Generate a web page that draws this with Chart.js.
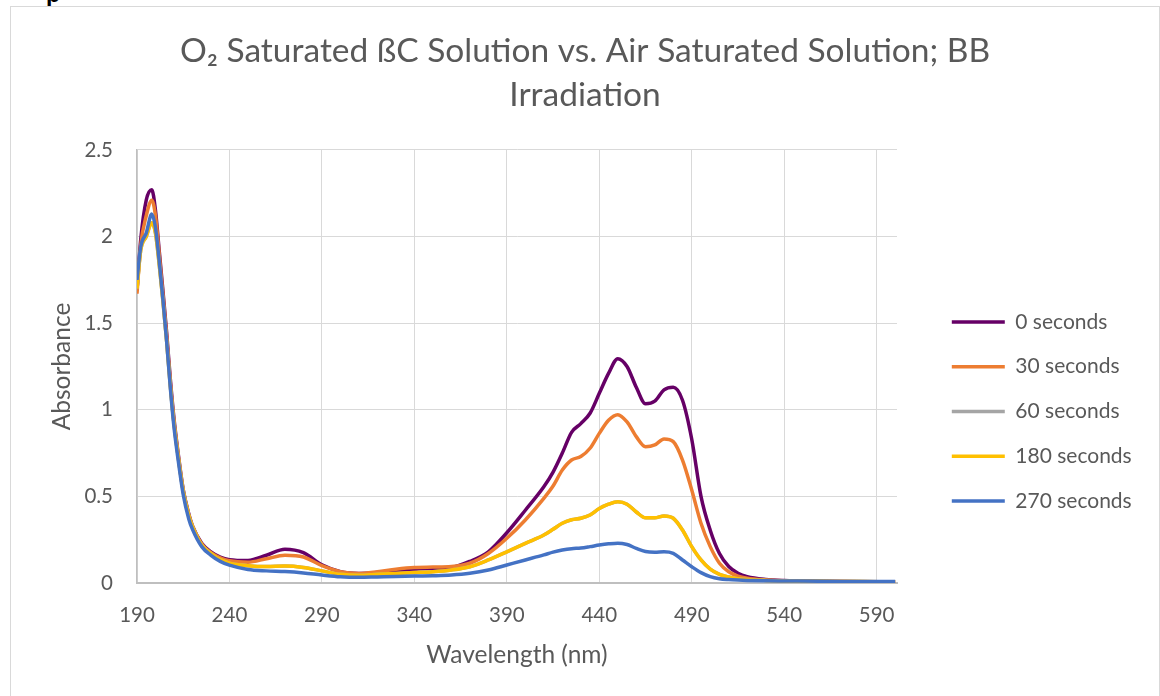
<!DOCTYPE html>
<html>
<head>
<meta charset="utf-8">
<title>Absorbance spectra</title>
<script src="https://cdn.jsdelivr.net/npm/chart.js@4.4.1/dist/chart.umd.min.js"></script>
<style>
  html, body { margin: 0; padding: 0; background: #fff; overflow: hidden; }
  .cut { position: absolute; left: 46px; top: -19px; font: bold 23px "Liberation Sans"; color: #000; }
  .frame { position: absolute; left: 10px; top: 6px; width: 1150px; height: 700px; box-sizing: border-box; border: 1px solid #d9d9d9; }
  canvas { display: block; }
</style>
</head>
<body>
<div class="cut">p</div>
<div class="frame"><canvas id="chart" width="1148" height="689"></canvas></div>
<script>
// wavelength (nm) and absorbance
var wavelengths = [190, 192, 195, 198, 200, 202, 204, 206, 208, 210, 212, 215, 218, 220, 225, 230, 235, 240,
	250, 260, 270, 280, 290, 300, 310, 320, 330, 340, 350, 360, 370, 380, 390, 400, 410, 415, 420, 425, 430,
	435, 440, 445, 450, 455, 460, 465, 470, 475, 480, 485, 490, 495, 500, 505, 510, 515, 520, 530, 540, 560, 580, 600];

var abs0s = [1.69, 1.98, 2.21, 2.27, 2.15, 1.92, 1.69, 1.45, 1.18, 0.95, 0.77, 0.54, 0.40, 0.33, 0.23, 0.18, 0.15, 0.135,
	0.13, 0.16, 0.195, 0.175, 0.105, 0.065, 0.055, 0.06, 0.07, 0.08, 0.085, 0.09, 0.125, 0.18, 0.29, 0.42, 0.555, 0.64, 0.75, 0.87, 0.92,
	0.98, 1.095, 1.21, 1.295, 1.25, 1.13, 1.035, 1.05, 1.115, 1.13, 1.055, 0.83, 0.5, 0.305, 0.17, 0.095, 0.056, 0.036, 0.02, 0.014, 0.01, 0.007, 0.005];

var abs30s = [1.67, 1.95, 2.12, 2.21, 2.12, 1.9, 1.67, 1.43, 1.16, 0.93, 0.76, 0.53, 0.39, 0.33, 0.225, 0.175, 0.145, 0.128,
	0.12, 0.14, 0.16, 0.15, 0.1, 0.065, 0.055, 0.065, 0.08, 0.09, 0.092, 0.095, 0.114, 0.17, 0.258, 0.364, 0.489, 0.56, 0.652, 0.71, 0.73,
	0.778, 0.864, 0.94, 0.972, 0.93, 0.845, 0.787, 0.797, 0.832, 0.816, 0.71, 0.537, 0.345, 0.21, 0.114, 0.065, 0.04, 0.028, 0.018, 0.013, 0.01, 0.008, 0.007];

var abs60s = [1.7, 1.92, 2.0, 2.08, 2.02, 1.84, 1.63, 1.4, 1.14, 0.92, 0.75, 0.53, 0.39, 0.325, 0.22, 0.17, 0.135, 0.115,
	0.1, 0.095, 0.098, 0.09, 0.07, 0.05, 0.045, 0.05, 0.055, 0.06, 0.065, 0.075, 0.094, 0.133, 0.18, 0.229, 0.277, 0.31, 0.345, 0.365, 0.374,
	0.393, 0.43, 0.455, 0.469, 0.455, 0.41, 0.376, 0.376, 0.387, 0.374, 0.306, 0.21, 0.133, 0.08, 0.05, 0.035, 0.025, 0.02, 0.015, 0.012, 0.01, 0.008, 0.007];

var abs180s = [1.7, 1.92, 2.0, 2.08, 2.02, 1.84, 1.63, 1.4, 1.14, 0.92, 0.75, 0.53, 0.39, 0.325, 0.22, 0.17, 0.135, 0.115,
	0.1, 0.095, 0.098, 0.09, 0.07, 0.05, 0.045, 0.05, 0.055, 0.06, 0.065, 0.075, 0.094, 0.133, 0.18, 0.229, 0.277, 0.31, 0.345, 0.365, 0.374,
	0.393, 0.43, 0.455, 0.469, 0.455, 0.41, 0.376, 0.376, 0.387, 0.374, 0.306, 0.21, 0.133, 0.08, 0.05, 0.035, 0.025, 0.02, 0.015, 0.012, 0.01, 0.008, 0.007];

var abs270s = [1.75, 1.94, 2.02, 2.13, 2.05, 1.86, 1.64, 1.4, 1.13, 0.9, 0.73, 0.51, 0.37, 0.31, 0.21, 0.16, 0.125, 0.103,
	0.078, 0.07, 0.066, 0.058, 0.046, 0.036, 0.033, 0.035, 0.037, 0.04, 0.042, 0.046, 0.056, 0.075, 0.104, 0.133, 0.162, 0.178, 0.19, 0.198, 0.202,
	0.21, 0.219, 0.226, 0.23, 0.222, 0.2, 0.182, 0.178, 0.18, 0.171, 0.133, 0.094, 0.06, 0.037, 0.025, 0.02, 0.017, 0.015, 0.013, 0.012, 0.01, 0.009, 0.008];

var seriesNames = ['0 seconds', '30 seconds', '60 seconds', '180 seconds', '270 seconds'];
var xTicks = [190, 240, 290, 340, 390, 440, 490, 540, 590];
var yTicks = [0, 0.5, 1, 1.5, 2, 2.5];

var titleLines = ['O\u2082 Saturated \u00dfC Solution vs. Air Saturated Solution; BB', 'Irradiation'];
var colors = ['#660066', '#ED7D31', '#A5A5A5', '#FFC000', '#4472C4'];
var textColor = '#595959';

var seriesValues = [abs0s, abs30s, abs60s, abs180s, abs270s];

Chart.defaults.font.family = 'Lato';
Chart.defaults.color = textColor;

// legend sits a bit away from the plot, title centred on the whole frame (like the excel original)
var layoutTweak = {
	id: 'layoutTweak',
	afterLayout: function(chart) {
		var lg = chart.legend;
		lg.left += 31; lg.right += 31 + 60;
		lg.top += 60; lg.bottom += 60;
		var tb = chart.titleBlock;
		tb.left = 0; tb.right = chart.width; tb.width = chart.width;
	}
};

var datasets = seriesNames.map(function(name, i) {
	return {
		label: name,
		data: wavelengths.map(function(w, j) { return {x: w, y: seriesValues[i][j]}; }),
		borderColor: colors[i],
		backgroundColor: colors[i],
		borderWidth: 3.5,
		pointRadius: 0,
		cubicInterpolationMode: 'monotone',
		order: seriesNames.length - i
	};
});

new Chart(document.getElementById('chart'), {
	type: 'line',
	data: { datasets: datasets },
	plugins: [layoutTweak],
	options: {
		responsive: false,
		animation: false,
		layout: { padding: { left: 0, right: 72, top: 0, bottom: 0 } },
		plugins: {
			title: {
				display: true,
				text: titleLines,
				color: textColor,
				font: { size: 33.5, weight: 'normal', lineHeight: 1.313 },
				padding: { top: 22, bottom: 33 }
			},
			legend: {
				position: 'right',
				maxWidth: 190,
				labels: {
					usePointStyle: true,
					pointStyle: 'line',
					pointStyleWidth: 53,
					padding: 23.8,
					color: textColor,
					font: { size: 21 },
					sort: function(a, b) { return a.datasetIndex - b.datasetIndex; }
				}
			},
			tooltip: { enabled: false }
		},
		scales: {
			x: {
				type: 'linear',
				min: 190,
				max: 601,
				afterFit: function(s) { s.height = 113; },
				afterBuildTicks: function(s) { s.ticks = xTicks.map(function(v) { return {value: v}; }); },
				grid: { color: '#d9d9d9', drawTicks: false },
				border: { color: '#bfbfbf', width: 2 },
				ticks: { color: textColor, font: { size: 20.5 }, padding: 20, maxRotation: 0, autoSkip: false },
				title: { display: true, text: 'Wavelength (nm)', color: textColor, font: { size: 24.5 }, padding: { top: 0, bottom: 26 } }
			},
			y: {
				min: 0,
				max: 2.5,
				afterFit: function(s) { s.width = 126; },
				afterBuildTicks: function(s) { s.ticks = yTicks.map(function(v) { return {value: v}; }); },
				grid: { color: '#d9d9d9', drawTicks: false },
				border: { color: '#bfbfbf', width: 1.5 },
				ticks: {
					color: textColor,
					font: { size: 20.5 },
					padding: 24,
					callback: function(v) { return String(v); }
				},
				title: { display: true, text: 'Absorbance', color: textColor, font: { size: 24.5 }, padding: { top: 36, bottom: 0 } }
			}
		}
	}
});
</script>
</body>
</html>
